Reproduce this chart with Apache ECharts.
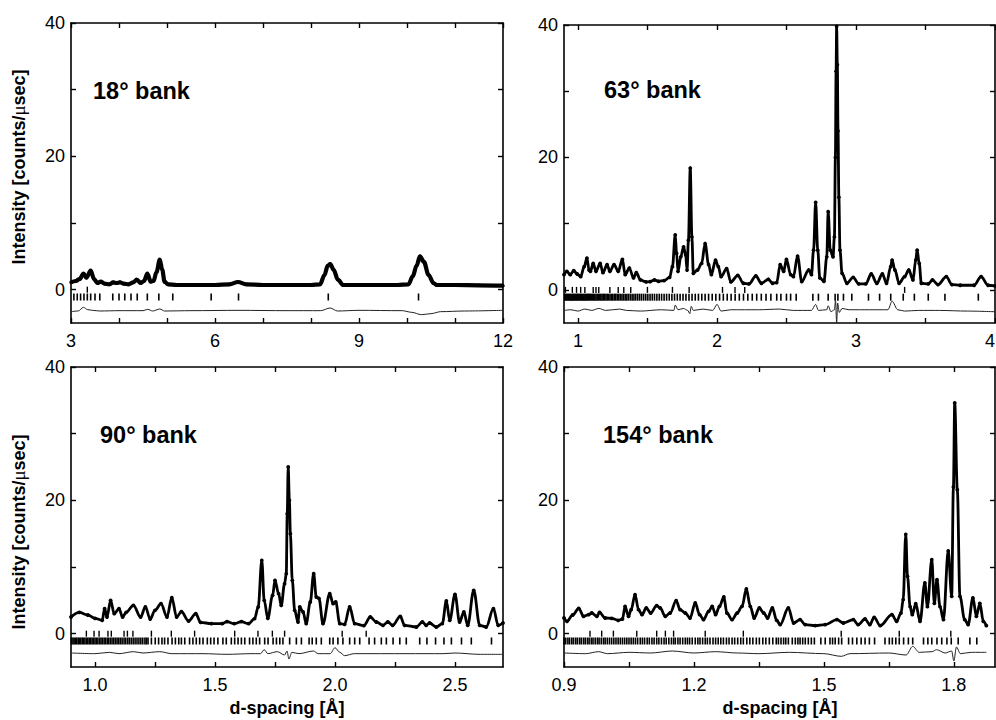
<!DOCTYPE html>
<html>
<head>
<meta charset="utf-8">
<title>Neutron diffraction profiles by detector bank</title>
<script src="https://cdn.jsdelivr.net/npm/echarts@6/dist/echarts.min.js"></script>
<style>
  html, body { margin: 0; padding: 0; background: #fff; }
  #chart { width: 996px; height: 720px; }
</style>
</head>
<body>
<div id="chart"></div>
<script>
// ---- 18° bank -------------------------------------------------------------
const obs18 = [
  [3.0,1.1],[3.1,1.3],[3.18,1.6],[3.26,2.4],[3.32,1.8],[3.41,2.85],[3.48,1.6],[3.55,1.0],
  [3.62,1.2],[3.7,0.9],[3.8,0.8],[3.88,1.1],[3.95,1.0],[4.02,1.1],[4.1,0.9],[4.2,0.8],
  [4.3,1.1],[4.37,1.5],[4.45,1.0],[4.52,1.3],[4.59,2.4],[4.66,1.2],[4.72,1.3],[4.78,2.6],
  [4.85,4.5],[4.9,3.0],[4.95,1.2],[5.02,0.8],[5.2,0.7],[5.6,0.7],[6.0,0.7],[6.3,0.8],
  [6.48,1.15],[6.65,0.8],[7.0,0.7],[7.5,0.7],[8.0,0.7],[8.19,0.8],[8.28,2.2],[8.35,3.6],
  [8.4,3.85],[8.47,3.0],[8.56,1.5],[8.67,0.7],[8.8,0.7],[9.3,0.7],[9.8,0.7],[10.03,0.8],
  [10.12,2.0],[10.2,3.6],[10.27,5.0],[10.35,4.2],[10.45,2.2],[10.55,1.0],[10.62,0.7],
  [11.0,0.7],[11.5,0.65],[12.0,0.6]
];
const diff18 = [
  [3.0,-3.3],[3.15,-3.2],[3.26,-2.65],[3.35,-3.0],[3.45,-3.1],[3.6,-3.2],[4.0,-3.15],
  [4.5,-3.15],[4.6,-2.95],[4.7,-3.2],[4.85,-2.9],[4.95,-3.2],[5.5,-3.15],[6.5,-3.1],
  [7.5,-3.15],[8.2,-3.15],[8.4,-2.75],[8.55,-3.2],[9.0,-3.1],[9.9,-3.15],[10.1,-3.4],
  [10.3,-3.75],[10.5,-3.6],[10.7,-3.3],[11.2,-3.2],[12.0,-3.1]
];
const hkl18 = [3.06,3.13,3.2,3.27,3.34,3.41,3.5,3.6,3.87,4.0,4.12,4.25,4.38,4.59,4.83,5.12,5.92,6.49,8.36,10.24];
const hkl18b = [3.34];

// ---- 63° bank -------------------------------------------------------------
const obs63 = [
  [0.9,2.3],[0.92,2.8],[0.945,2.3],[0.97,2.9],[0.995,2.4],[1.02,2.0],[1.045,3.5],[1.065,4.8],
  [1.08,3.0],[1.09,2.8],[1.11,4.0],[1.13,2.8],[1.16,4.0],[1.18,2.6],[1.21,3.8],[1.23,2.8],
  [1.26,3.8],[1.29,2.8],[1.32,4.6],[1.34,2.3],[1.37,3.3],[1.4,1.8],[1.42,2.6],[1.45,1.5],
  [1.49,1.2],[1.52,1.25],[1.55,1.5],[1.58,1.3],[1.62,1.4],[1.66,1.9],[1.68,3.5],[1.7,8.3],
  [1.71,5.5],[1.72,2.8],[1.74,5.0],[1.76,6.5],[1.775,5.3],[1.785,3.0],[1.795,7.5],[1.808,18.4],
  [1.82,8.0],[1.83,2.5],[1.86,3.0],[1.89,4.0],[1.915,7.0],[1.94,3.8],[1.96,2.3],[1.99,4.5],
  [2.01,3.5],[2.03,2.0],[2.07,3.2],[2.1,1.2],[2.15,2.2],[2.19,1.0],[2.23,0.9],[2.28,2.1],
  [2.32,1.0],[2.37,1.6],[2.4,1.0],[2.43,1.1],[2.455,3.8],[2.48,2.8],[2.5,4.6],[2.53,2.3],
  [2.55,2.0],[2.58,5.1],[2.61,1.25],[2.66,3.0],[2.68,2.3],[2.695,6.0],[2.71,13.2],[2.725,6.0],
  [2.74,1.8],[2.77,1.3],[2.79,5.0],[2.8,11.8],[2.815,6.0],[2.835,5.0],[2.845,8.0],[2.852,20],
  [2.857,33],[2.861,39.8],[2.866,34],[2.871,24],[2.877,14],[2.885,6],[2.9,2.5],[2.935,1.0],
  [2.98,1.9],[3.02,0.9],[3.07,0.9],[3.11,2.4],[3.15,1.0],[3.19,2.4],[3.22,1.0],[3.25,3.5],
  [3.26,4.5],[3.28,3.0],[3.31,1.0],[3.35,2.0],[3.38,3.0],[3.41,1.5],[3.43,4.5],[3.44,6.0],
  [3.455,4.0],[3.47,1.0],[3.52,0.9],[3.55,1.5],[3.59,0.8],[3.65,2.0],[3.69,0.8],[3.75,0.7],
  [3.85,0.7],[3.9,2.0],[3.95,0.7],[4.0,0.6]
];
const diff63 = [
  [0.9,-3.1],[0.95,-3.0],[1.0,-3.2],[1.05,-2.9],[1.1,-3.1],[1.15,-2.8],[1.2,-3.1],[1.3,-2.9],
  [1.35,-3.1],[1.45,-3.2],[1.6,-3.0],[1.69,-3.1],[1.7,-2.3],[1.72,-3.0],[1.76,-2.8],[1.79,-3.1],
  [1.805,-3.6],[1.815,-2.5],[1.83,-3.1],[1.9,-2.9],[1.97,-3.1],[2.0,-2.2],[2.03,-3.2],[2.1,-3.0],
  [2.3,-3.0],[2.45,-2.9],[2.55,-3.1],[2.68,-3.1],[2.71,-2.2],[2.73,-3.1],[2.79,-3.0],[2.8,-2.4],
  [2.82,-3.3],[2.845,-3.0],[2.853,-1.6],[2.861,-5.0],[2.868,-2.0],[2.88,-3.4],[2.9,-2.8],
  [2.95,-3.0],[3.1,-3.0],[3.23,-3.0],[3.26,-1.7],[3.3,-3.0],[3.35,-3.2],[3.45,-3.1],[3.6,-3.1],
  [3.8,-3.2],[4.0,-3.3]
];
const hkl63 = [
  0.905,0.912,0.918,0.925,0.931,0.938,0.944,0.95,0.957,0.963,0.97,0.976,0.983,0.99,0.996,
  1.003,1.01,1.017,1.024,1.031,1.038,1.045,1.052,1.06,1.067,1.075,1.082,1.09,1.098,1.106,
  1.114,1.122,1.13,1.139,1.147,1.156,1.165,1.174,1.183,1.192,1.202,1.211,1.221,1.231,1.241,
  1.251,1.262,1.272,1.283,1.294,1.305,1.317,1.328,1.34,1.352,1.364,1.377,1.39,1.403,1.416,
  1.43,1.444,1.458,1.473,1.488,1.503,1.519,1.535,1.551,1.568,1.585,1.602,1.62,1.638,1.657,
  1.676,1.695,1.715,1.735,1.756,1.777,1.799,1.821,1.844,1.867,1.891,1.915,1.94,1.966,1.992,
  2.019,2.046,2.074,2.102,2.131,2.161,2.191,2.222,2.254,2.286,2.319,2.353,2.388,
  2.43,2.46,2.5,2.53,2.57,2.69,2.73,2.8,2.85,2.87,2.91,2.97,3.09,3.17,3.25,3.34,3.42,3.52,3.64,3.88
];
const hkl63b = [0.91,0.96,0.99,1.02,1.05,1.11,1.13,1.15,1.23,1.29,1.33,1.38,1.5,1.68,1.8,2.04,2.13,2.2,3.35];

// ---- 90° bank -------------------------------------------------------------
const obs90 = [
  [0.9,2.5],[0.935,3.2],[0.97,2.8],[1.0,2.3],[1.03,2.0],[1.04,3.75],[1.05,2.5],[1.065,5.0],
  [1.08,3.0],[1.1,3.75],[1.115,2.5],[1.13,3.2],[1.16,4.25],[1.19,2.5],[1.21,4.0],[1.23,2.2],
  [1.25,3.5],[1.275,4.5],[1.3,2.5],[1.32,5.4],[1.34,2.5],[1.36,3.3],[1.39,1.9],[1.42,3.0],
  [1.44,1.7],[1.485,1.5],[1.53,1.5],[1.55,1.8],[1.58,1.5],[1.61,1.8],[1.64,1.5],[1.665,2.25],
  [1.68,4.0],[1.695,11.0],[1.705,5.0],[1.72,2.3],[1.74,5.75],[1.75,8.0],[1.765,6.0],[1.776,4.25],
  [1.79,7.5],[1.797,9.0],[1.801,18],[1.805,25.0],[1.81,20],[1.814,15.0],[1.822,8.0],[1.832,3.5],
  [1.846,1.75],[1.853,4.0],[1.867,3.25],[1.88,1.5],[1.897,4.75],[1.911,9.0],[1.922,5.5],
  [1.933,5.3],[1.95,1.5],[1.978,6.0],[1.992,4.5],[2.003,4.75],[2.02,1.5],[2.04,1.4],[2.061,4.0],
  [2.082,1.5],[2.12,1.2],[2.147,2.5],[2.172,1.75],[2.2,1.25],[2.22,1.75],[2.24,1.25],[2.272,2.6],
  [2.29,1.25],[2.339,1.0],[2.364,1.75],[2.38,1.25],[2.394,1.6],[2.422,1.0],[2.447,1.5],
  [2.464,4.9],[2.478,2.0],[2.5,5.9],[2.519,1.75],[2.537,3.25],[2.553,1.25],[2.578,6.5],
  [2.603,1.25],[2.63,1.0],[2.66,3.75],[2.68,1.25],[2.7,1.6]
];
const diff90 = [
  [0.9,-2.9],[1.0,-3.0],[1.06,-2.8],[1.1,-3.0],[1.16,-2.7],[1.2,-2.9],[1.27,-2.7],[1.32,-3.0],
  [1.45,-3.0],[1.55,-3.1],[1.65,-3.0],[1.69,-3.0],[1.705,-2.4],[1.72,-3.0],[1.76,-2.7],[1.79,-3.2],
  [1.8,-2.6],[1.808,-3.8],[1.82,-2.8],[1.85,-3.0],[1.91,-2.6],[1.93,-3.0],[1.98,-3.0],[2.0,-2.1],
  [2.02,-2.8],[2.04,-3.3],[2.08,-3.0],[2.3,-3.0],[2.45,-3.0],[2.5,-2.9],[2.6,-3.1],[2.7,-3.1]
];
const hkl90 = [
  0.902,0.908,0.913,0.919,0.924,0.93,0.935,0.941,0.947,0.952,0.958,0.964,0.97,0.976,0.982,
  0.988,0.994,1.0,1.006,1.012,1.019,1.025,1.031,1.038,1.044,1.051,1.057,1.064,1.071,1.078,
  1.085,1.092,1.099,1.106,1.113,1.121,1.128,1.136,1.143,1.151,1.159,1.167,1.175,1.183,1.191,
  1.199,1.208,1.214,1.221,1.235,1.251,1.265,1.279,1.29,1.304,1.321,1.335,1.349,1.36,1.374,
  1.394,1.408,1.422,1.436,1.45,1.468,1.482,1.496,1.512,1.533,1.547,1.568,1.582,1.596,1.61,
  1.624,1.644,1.658,1.672,1.686,1.707,1.721,1.742,1.756,1.77,1.783,1.811,1.839,1.86,1.892,
  1.905,1.922,1.943,1.978,1.992,2.012,2.033,2.061,2.082,2.103,2.142,2.165,2.193,2.214,2.242,
  2.27,2.297,2.353,2.383,2.419,2.454,2.485,2.527,2.568,2.652
];
const hkl90b = [0.964,0.996,1.017,1.054,1.068,1.121,1.135,1.158,1.235,1.318,1.415,1.582,1.679,1.739,1.79,2.03,2.13];

// ---- 154° bank ------------------------------------------------------------
const obs154 = [
  [0.9,2.35],[0.907,1.85],[0.92,2.8],[0.934,3.8],[0.945,2.6],[0.957,2.85],[0.964,3.1],[0.976,2.6],
  [0.982,3.2],[0.995,2.35],[1.01,2.3],[1.025,2.0],[1.035,2.2],[1.041,4.1],[1.049,2.6],[1.055,3.6],
  [1.064,5.85],[1.072,3.6],[1.08,2.85],[1.09,3.85],[1.1,3.1],[1.114,4.2],[1.122,3.85],[1.134,2.6],
  [1.145,3.1],[1.159,4.95],[1.168,3.6],[1.18,3.1],[1.191,2.35],[1.203,4.6],[1.213,2.85],[1.222,2.1],
  [1.234,3.35],[1.242,4.1],[1.25,2.85],[1.259,4.1],[1.269,5.5],[1.276,3.1],[1.288,2.1],[1.3,3.1],
  [1.311,4.1],[1.321,6.7],[1.33,4.1],[1.339,2.35],[1.351,3.85],[1.361,3.1],[1.37,2.35],[1.381,3.85],
  [1.391,2.0],[1.399,1.35],[1.418,3.85],[1.43,1.6],[1.445,2.1],[1.457,1.35],[1.48,1.2],[1.503,1.35],
  [1.53,2.1],[1.545,1.6],[1.568,2.1],[1.579,1.35],[1.595,2.2],[1.606,1.35],[1.616,2.45],[1.63,1.2],
  [1.657,2.85],[1.668,1.85],[1.678,3.1],[1.683,5.1],[1.689,14.9],[1.693,8.6],[1.699,4.05],
  [1.704,2.85],[1.712,4.5],[1.722,1.85],[1.733,7.6],[1.739,4.05],[1.749,11.1],[1.755,4.55],
  [1.761,8.1],[1.768,4.05],[1.776,2.1],[1.787,12.4],[1.795,5.6],[1.799,22],[1.802,34.6],
  [1.808,21.6],[1.814,5.6],[1.825,2.1],[1.833,1.35],[1.844,5.35],[1.852,2.6],[1.86,4.55],
  [1.868,1.85],[1.875,1.2]
];
const diff154 = [
  [0.9,-2.9],[0.95,-3.0],[0.98,-2.7],[1.0,-3.0],[1.05,-2.8],[1.1,-2.9],[1.15,-2.6],[1.2,-2.9],
  [1.25,-2.7],[1.3,-2.9],[1.35,-3.0],[1.42,-2.8],[1.5,-3.0],[1.54,-3.4],[1.56,-3.0],[1.65,-2.9],
  [1.69,-3.2],[1.705,-1.9],[1.72,-2.8],[1.75,-2.7],[1.76,-2.4],[1.78,-2.9],[1.795,-2.6],
  [1.8,-4.1],[1.806,-2.0],[1.815,-3.0],[1.84,-2.8],[1.875,-2.8]
];
const hkl154 = [
  0.9,0.904,0.909,0.913,0.918,0.922,0.927,0.931,0.936,0.94,0.945,0.949,0.954,0.958,0.963,
  0.967,0.972,0.977,0.981,0.986,0.991,0.995,1.0,1.005,1.01,1.015,1.02,1.025,1.03,1.035,
  1.04,1.045,1.05,1.055,1.06,1.065,1.07,1.076,1.081,1.086,1.092,1.097,1.103,1.108,1.114,
  1.119,1.125,1.131,1.136,1.142,1.148,1.153,1.157,1.163,1.168,1.174,1.18,1.185,1.19,1.196,
  1.203,1.209,1.214,1.22,1.226,1.231,1.237,1.244,1.25,1.256,1.262,1.268,1.275,1.281,1.288,
  1.294,1.301,1.308,1.314,1.322,1.329,1.336,1.344,1.351,1.359,1.366,1.374,1.382,
  1.39,1.395,1.401,1.407,1.412,1.418,1.427,1.434,1.44,1.445,1.451,1.457,1.464,1.471,1.478,
  1.493,1.503,1.514,1.52,1.526,1.534,1.541,1.557,1.566,1.576,1.586,1.595,1.605,1.617,1.641,
  1.651,1.658,1.666,1.674,1.684,1.695,1.705,1.73,1.74,1.749,1.761,1.772,1.784,1.794,1.81,
  1.837,1.853
];
const hkl154b = [0.96,0.987,1.014,1.068,1.114,1.134,1.153,1.226,1.314,1.54,1.674,1.793];

// ---- axis ticks and labels --------------------------------------------------
const yTickValues = [0, 10, 20, 30, 40];
const yLabelValues = [0, 20, 40];
const xTicks18 = [3, 4, 5, 6, 7, 8, 9, 10, 11, 12];
const xLabels18 = [3, 6, 9, 12];
const xTicks63 = [1, 1.5, 2, 2.5, 3, 3.5, 4];
const xLabels63 = [1, 2, 3, 4];
const xTicks90 = [1.0, 1.25, 1.5, 1.75, 2.0, 2.25, 2.5];
const xLabels90 = [1.0, 1.5, 2.0, 2.5];
const xTicks154 = [0.9, 1.05, 1.2, 1.35, 1.5, 1.65, 1.8];
const xLabels154 = [0.9, 1.2, 1.5, 1.8];
const bankNames = ['18° bank', '63° bank', '90° bank', '154° bank'];

// ---- layout -----------------------------------------------------------------
const FONT = '"Liberation Sans", Arial, Helvetica, sans-serif';
const panels = [
  { obs: obs18,  diff: diff18,  hkl: hkl18,  hkl2: hkl18b,  xMin: 3,   xMax: 12,    xTicks: xTicks18,  xLabels: xLabels18,  dec: 0,
    grid: { left: 71,  top: 23, width: 432, height: 300 }, lw: 4.2, sym: 3.5, label: [93, 91], edgeLabel: 'center' },
  { obs: obs63,  diff: diff63,  hkl: hkl63,  hkl2: hkl63b,  xMin: 0.9, xMax: 4.0,   xTicks: xTicks63,  xLabels: xLabels63,  dec: 0,
    grid: { left: 564, top: 25, width: 431, height: 298 }, lw: 2.8, sym: 3.8, label: [604, 90], edgeLabel: 'right' },
  { obs: obs90,  diff: diff90,  hkl: hkl90,  hkl2: hkl90b,  xMin: 0.9, xMax: 2.7,   xTicks: xTicks90,  xLabels: xLabels90,  dec: 1,
    grid: { left: 71,  top: 367, width: 432, height: 300 }, lw: 2.8, sym: 3.8, label: [100, 435], edgeLabel: 'center' },
  { obs: obs154, diff: diff154, hkl: hkl154, hkl2: hkl154b, xMin: 0.9, xMax: 1.895, xTicks: xTicks154, xLabels: xLabels154, dec: 1,
    grid: { left: 564, top: 367, width: 431, height: 300 }, lw: 2.8, sym: 3.8, label: [603, 435], edgeLabel: 'center' }
];

const tickStyle = { inside: true, length: 5, lineStyle: { color: '#000', width: 1.4 } };
const lineStyleAxis = { show: true, onZero: false, lineStyle: { color: '#000', width: 1.6 } };
const labelStyle = { color: '#000', fontSize: 18, fontFamily: FONT };

const grid = [], xAxis = [], yAxis = [], series = [];
panels.forEach((p, i) => {
  grid.push(Object.assign({ containLabel: false, outerBoundsMode: 'none' }, p.grid));
  const fmt = v => (p.dec ? Number(v).toFixed(p.dec) : String(v));
  // bottom and top x axes
  xAxis.push({
    type: 'value', gridIndex: i, position: 'bottom', min: p.xMin, max: p.xMax,
    axisLine: lineStyleAxis, splitLine: { show: false },
    axisTick: Object.assign({ customValues: p.xTicks }, tickStyle),
    axisLabel: Object.assign({
      customValues: p.xLabels, margin: 9, formatter: fmt,
      showMinLabel: true, showMaxLabel: true, alignMaxLabel: p.edgeLabel
    }, labelStyle)
  });
  xAxis.push({
    type: 'value', gridIndex: i, position: 'top', min: p.xMin, max: p.xMax,
    axisLine: lineStyleAxis, splitLine: { show: false },
    axisTick: Object.assign({ customValues: p.xTicks }, tickStyle),
    axisLabel: { show: false }
  });
  // left and right y axes
  yAxis.push({
    type: 'value', gridIndex: i, position: 'left', min: -5, max: 40,
    axisLine: lineStyleAxis, splitLine: { show: false },
    axisTick: Object.assign({ customValues: yTickValues }, tickStyle),
    axisLabel: Object.assign({ customValues: yLabelValues, margin: 6 }, labelStyle)
  });
  yAxis.push({
    type: 'value', gridIndex: i, position: 'right', min: -5, max: 40,
    axisLine: lineStyleAxis, splitLine: { show: false },
    axisTick: Object.assign({ customValues: yTickValues }, tickStyle),
    axisLabel: { show: false }
  });
  const xi = 2 * i, yi = 2 * i;
  // reflection markers, main phase
  series.push({
    type: 'scatter', xAxisIndex: xi, yAxisIndex: yi, silent: true,
    symbol: 'rect', symbolSize: [1.6, 7],
    itemStyle: { color: '#000', opacity: 1 },
    data: p.hkl.map(d => [d, -1.1])
  });
  // reflection markers, second phase (raised)
  series.push({
    type: 'scatter', xAxisIndex: xi, yAxisIndex: yi, silent: true,
    symbol: 'rect', symbolSize: [1.4, 6],
    itemStyle: { color: '#000', opacity: 1 },
    data: p.hkl2.map(d => [d, 0.0])
  });
  // observed profile with fitted curve
  series.push({
    type: 'line', xAxisIndex: xi, yAxisIndex: yi, silent: true,
    data: p.obs, showSymbol: true, symbol: 'circle', symbolSize: p.sym,
    smooth: 0.35, smoothMonotone: 'x',
    lineStyle: { color: '#000', width: p.lw },
    itemStyle: { color: '#000', opacity: 1 }
  });
  // difference curve
  series.push({
    type: 'line', xAxisIndex: xi, yAxisIndex: yi, silent: true,
    data: p.diff, showSymbol: false, symbol: 'none',
    smooth: 0.3, smoothMonotone: 'x',
    lineStyle: { color: '#222', width: 1 }
  });
});

// bank labels and axis titles
const graphic = [];
panels.forEach((p, i) => {
  graphic.push({
    type: 'text', x: p.label[0], y: p.label[1], silent: true,
    style: { text: bankNames[i], fill: '#000', font: 'bold 23.5px ' + FONT, align: 'left', verticalAlign: 'middle' }
  });
});
const yTitle = 'Intensity [counts/{mu|μ}sec]';
[[18.5, 167], [18.5, 532]].forEach(pos => {
  graphic.push({
    type: 'text', x: pos[0], y: pos[1], rotation: Math.PI / 2, silent: true,
    style: {
      text: yTitle, fill: '#000', font: 'bold 18px ' + FONT, align: 'center', verticalAlign: 'middle',
      rich: { mu: { fontFamily: '"Liberation Serif", serif', fontWeight: 'normal', fontSize: 19, fill: '#000' } }
    }
  });
});
[[287, 708], [780, 708]].forEach(pos => {
  graphic.push({
    type: 'text', x: pos[0], y: pos[1], silent: true,
    style: { text: 'd-spacing [Å]', fill: '#000', font: 'bold 18px ' + FONT, align: 'center', verticalAlign: 'middle' }
  });
});

const chart = echarts.init(document.getElementById('chart'), null, { renderer: 'svg' });
chart.setOption({
  animation: false,
  backgroundColor: '#fff',
  textStyle: { fontFamily: FONT },
  grid, xAxis, yAxis, series, graphic
});
</script>
</body>
</html>
